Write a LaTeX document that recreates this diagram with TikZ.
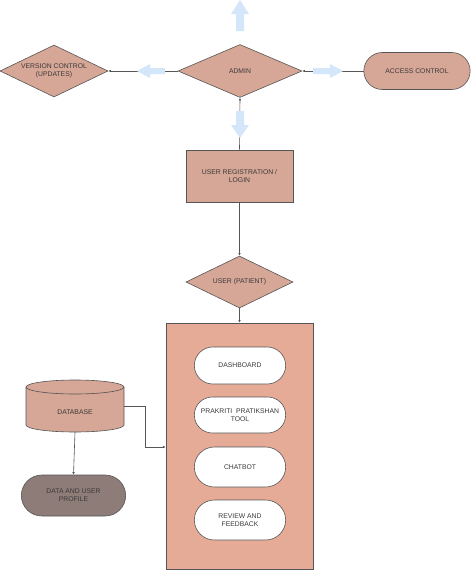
\documentclass[tikz,border=0pt]{standalone}
\usepackage{fontspec}
\setmainfont{Liberation Sans}
\usetikzlibrary{shapes.geometric,shapes.misc,arrows.meta}
\definecolor{salmon}{HTML}{D6A696}
\definecolor{bigfill}{HTML}{E6AB97}
\definecolor{darkbox}{HTML}{8E7C78}
\definecolor{txt}{HTML}{3A3A3A}
\definecolor{edge}{HTML}{555555}
\definecolor{lblue}{HTML}{D3E6FA}
\tikzset{
  lbl/.style={font=\fontsize{6.8}{7.8}\selectfont, text=txt, align=center},
  dia/.style={diamond, draw=edge, line width=0.6pt, fill=salmon, aspect=2.3, inner sep=0pt, lbl},
  pill/.style={rounded rectangle, draw=edge, line width=0.6pt, lbl},
  conn/.style={draw=edge, line width=0.6pt, -{Latex[length=2.5pt,width=2.5pt]}},
  barrow/.style={fill=lblue, draw=none},
  shapeline/.style={draw=edge, line width=0.6pt},
}
\begin{document}
\begin{tikzpicture}[x=1pt,y=-1pt]
\useasboundingbox (0,0) rectangle (474,570);
% big container
\node[draw=edge, line width=0.6pt, fill=bigfill, minimum width=147pt, minimum height=246pt, inner sep=0pt] (app) at (239.5,446) {};
% nodes
\node[dia, minimum width=124pt, minimum height=53pt] (admin) at (240,71) {ADMIN};
\node[dia, minimum width=108pt, minimum height=52pt] (version) at (54,71) {VERSION CONTROL\\(UPDATES)};
\node[pill, fill=salmon, minimum width=113pt, minimum height=37pt] (access) at (417,71) {ACCESS CONTROL};
\node[draw=edge, line width=0.6pt, fill=salmon, minimum width=107pt, minimum height=52pt, lbl] (reg) at (239.5,176) {USER REGISTRATION /\\LOGIN};
\node[dia, minimum width=107pt, minimum height=52pt] (user) at (239.5,282) {USER (PATIENT)};
\node[pill, fill=white, minimum width=98pt, minimum height=37pt] (dash) at (240,365.5) {DASHBOARD};
\node[pill, fill=white, minimum width=98pt, minimum height=36pt] (tool) at (240,415) {PRAKRITI\ \ PRATIKSHAN\\TOOL};
\node[pill, fill=white, minimum width=98pt, minimum height=40pt] (chat) at (240,467) {CHATBOT};
\node[pill, fill=white, minimum width=98pt, minimum height=40pt] (review) at (240,520) {REVIEW AND\\FEEDBACK};
% database cylinder (drawn directly around an invisible node)
\node[minimum width=98pt, minimum height=52pt, inner sep=0pt] (db) at (75,406) {};
\filldraw[shapeline, fill=salmon] (26,387) -- (26,425) arc[start angle=180, end angle=360, x radius=49pt, y radius=7pt] -- (124,387) arc[start angle=0, end angle=180, x radius=49pt, y radius=7pt] -- cycle;
\draw[shapeline] (26,387) arc[start angle=180, end angle=360, x radius=49pt, y radius=7pt];
\node[lbl] at (75,412) {DATABASE};
\node[pill, fill=darkbox, minimum width=111pt, minimum height=41pt] (profile) at (73.5,495.5) {DATA AND USER\\PROFILE};
% connectors
\draw[conn] (admin.west) -- (version.east);
\draw[conn] (access.west) -- (admin.east);
\draw[conn] (reg.north) -- (admin.south);
\draw[conn] (reg.south) -- (user.north);
\draw[conn] (user.south) -- (app.north);
\draw[conn] (db.east) -| (145,447) -- (app.west |- 0,447);
\draw[conn] (db.south) -- (profile.north);
% light blue block arrows
\fill[barrow] (240,0) -- (249,14) -- (244,14) -- (244,31) -- (236,31) -- (236,14) -- (231,14) -- cycle;
\fill[barrow] (240,138) -- (249,125) -- (244,125) -- (244,111) -- (236,111) -- (236,125) -- (231,125) -- cycle;
\fill[barrow] (137,71) -- (150,64) -- (150,68) -- (165,68) -- (165,74) -- (150,74) -- (150,78) -- cycle;
\fill[barrow] (343,71) -- (330,64) -- (330,68) -- (313,68) -- (313,74) -- (330,74) -- (330,78) -- cycle;
\end{tikzpicture}
\end{document}
